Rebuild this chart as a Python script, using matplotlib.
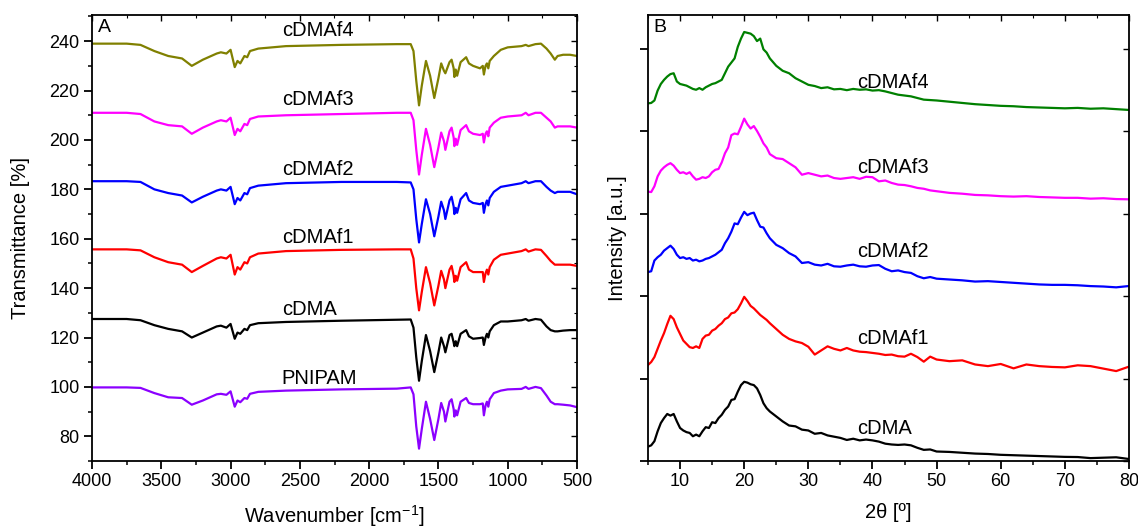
import matplotlib
matplotlib.use("Agg")
import matplotlib.pyplot as plt
from matplotlib.ticker import MultipleLocator, NullFormatter

plt.rcParams['font.family'] = ['Liberation Sans', 'DejaVu Sans']
plt.rcParams['mathtext.default'] = 'regular'

# ---------------- FTIR data (panel A) ----------------
wavenumber = [4000, 3750, 3650, 3550, 3450, 3350, 3280, 3200, 3100, 3070, 3030, 3000,
              2970, 2950, 2930, 2900, 2880, 2860, 2800, 2600, 2200, 1800, 1700, 1680,
              1660, 1640, 1620, 1590, 1560, 1530, 1500, 1480, 1460, 1450, 1420, 1405,
              1390, 1385, 1375, 1365, 1340, 1300, 1280, 1250, 1200, 1180, 1172, 1160,
              1150, 1140, 1130, 1100, 1050, 1000, 900, 870, 850, 800, 760, 720,
              690, 660, 640, 600, 550, 500]

ftir_cdmaf4 = [239, 239, 238.5, 236, 234, 233, 230, 232.5, 235, 235.5, 235, 236.5,
               229.5, 232, 231, 234, 233.5, 236, 237, 238, 238.5, 238.8, 238.8, 236,
               224, 214, 222, 232, 226, 217, 225, 231, 228, 227, 231.5, 232.5,
               229, 225.5, 228.5, 226, 231.5, 233.5, 231, 230, 229, 230, 226.5, 230,
               231, 229, 232, 234, 236.5, 237.5, 238, 238.5, 238, 238.8, 239, 237,
               235, 232.5, 234, 234.5, 234.5, 234]

ftir_cdmaf3 = [211, 211, 210.5, 207.5, 206, 205.5, 202.5, 205, 207.5, 208, 207.5, 209,
               202, 204.5, 203.5, 206.5, 206, 208.5, 209.5, 210, 210.5, 211, 211, 208,
               196, 186, 194, 204.5, 198, 189, 197, 203, 199.5, 196, 203.5, 205,
               201, 197.5, 200.5, 198, 204, 206, 203.5, 202.5, 202, 202.5, 199, 202.5,
               203.5, 201.5, 205, 207, 209, 209.5, 210, 211, 210, 211, 211, 209,
               207.5, 205, 205.5, 205.5, 205.5, 205]

ftir_cdmaf2 = [183.3, 183.3, 183, 180, 178.5, 177.5, 174.7, 177, 179.5, 180, 179.5, 181,
               174, 176.5, 175.5, 178.5, 178, 180.5, 181.5, 182.5, 183, 183, 182.8, 180,
               168, 158.5, 166, 176, 170, 161, 169, 175, 171.5, 168, 175.5, 177,
               173, 170, 172.5, 170.5, 176, 178.5, 175.5, 174.5, 174, 174.5, 170.5, 174,
               175.5, 173.5, 176.5, 179, 181, 181.5, 182.5, 183.3, 182.5, 183.3, 183.3, 181,
               179.5, 178.5, 179, 179, 179, 178]

ftir_cdmaf1 = [155.7, 155.7, 155.3, 152.5, 150.5, 149.5, 146.5, 149, 152, 152.5, 152, 153.5,
               145.5, 148.5, 147.5, 150.5, 150, 152.5, 154, 155, 155.5, 155.7, 155.7, 152,
               140, 131, 138.5, 148.5, 142, 133, 141, 147, 143.5, 140, 147.5, 149,
               145, 142.5, 145, 143, 148.5, 150.5, 147.5, 146.5, 146.5, 146.5, 142.5, 146,
               147.5, 145.5, 148.5, 151.5, 153.5, 154, 155, 155.7, 154.8, 155.7, 155.5, 153,
               151, 149.5, 149.5, 149.5, 149.5, 149]

ftir_cdma = [127.5, 127.5, 127, 125, 123.5, 122.5, 120, 122, 124.5, 124.8, 124, 125.5,
             119.5, 122, 121.5, 123.5, 123, 125, 125.8, 126.3, 126.8, 127.2, 127.3, 124,
             112, 102.5, 110.5, 121, 114.5, 106, 114, 120, 116.5, 114, 121, 121.5,
             118, 116.5, 118.5, 116.5, 121.5, 123, 120.5, 119.5, 119.8, 120, 117, 120,
             121.5, 120, 122.5, 125, 126.5, 126.5, 127, 127.5, 126.8, 127.5, 127.2, 124.5,
             123, 122.5, 122.5, 122.8, 123, 123]

ftir_pnipam = [99.8, 99.8, 99.6, 97.5, 95.8, 95.5, 92.8, 94.5, 97, 97.2, 96.8, 98.2,
               92, 94.5, 93.8, 95.5, 95.2, 97.2, 98, 98.5, 99, 99.3, 99.8, 97,
               84, 75, 83, 94, 87, 78.5, 87, 93.5, 90, 86, 94, 95,
               91, 88, 90.5, 88.5, 94, 95.5, 93.5, 93, 93, 93.3, 88.5, 92.5,
               94, 92, 95, 97.5, 98.5, 99, 99.2, 100, 99.2, 100, 99.5, 96.5,
               94, 93, 93, 92.8, 92.5, 91.8]

ftir_names = ['cDMAf4', 'cDMAf3', 'cDMAf2', 'cDMAf1', 'cDMA', 'PNIPAM']
ftir_colors = ['#808000', '#FF00FF', '#0000FF', '#FF0000', '#000000', '#8B00FF']
ftir_label_y = [244.2, 216.5, 188.2, 160.5, 131.3, 103.5]
ftir_label_x = 2630

# ---------------- XRD data (panel B) ----------------
two_theta = [5, 5.5, 6, 6.5, 7, 7.5, 8, 8.5, 9, 9.5,
             10, 10.5, 11, 11.5, 12, 12.5, 13, 13.5, 14, 14.5,
             15, 15.5, 16, 16.5, 17, 17.5, 18, 18.5, 19, 19.5,
             20, 20.5, 21, 21.5, 22, 22.5, 23, 23.5, 24,
             25, 26, 27, 28, 29, 30, 31, 32, 33, 34,
             35, 36, 37, 38, 39, 40, 41, 42, 43, 44,
             45, 46, 47, 48, 49, 50,
             52, 54, 56, 58, 60, 62, 64, 66, 68, 70, 72, 74, 76, 78, 80]

xrd_cdmaf4 = [4.335, 4.34, 4.37, 4.49, 4.57, 4.62, 4.66, 4.69, 4.70, 4.60,
              4.57, 4.56, 4.55, 4.53, 4.51, 4.50, 4.52, 4.50, 4.53, 4.55,
              4.57, 4.58, 4.60, 4.62, 4.70, 4.78, 4.83, 4.88, 5.02, 5.12,
              5.20, 5.19, 5.18, 5.15, 5.09, 5.12, 4.99, 4.95, 4.88,
              4.79, 4.73, 4.70, 4.64, 4.60, 4.56, 4.545, 4.52, 4.53, 4.505,
              4.51, 4.495, 4.51, 4.50, 4.505, 4.49, 4.495, 4.48, 4.46, 4.44,
              4.43, 4.42, 4.40, 4.38, 4.375, 4.37,
              4.355, 4.34, 4.325, 4.315, 4.305, 4.30, 4.29, 4.285, 4.28, 4.275, 4.28, 4.27,
              4.275, 4.265, 4.255]

xrd_cdmaf3 = [3.265, 3.26, 3.33, 3.45, 3.52, 3.56, 3.59, 3.61, 3.58, 3.53,
              3.49, 3.50, 3.48, 3.50, 3.45, 3.41, 3.42, 3.44, 3.43, 3.45,
              3.50, 3.53, 3.54, 3.62, 3.73, 3.80, 3.95, 3.97, 3.96, 4.05,
              4.15, 4.08, 4.03, 4.06, 4.00, 3.93, 3.85, 3.80, 3.72,
              3.67, 3.66, 3.61, 3.56, 3.47, 3.49, 3.47, 3.45, 3.46, 3.43,
              3.42, 3.43, 3.44, 3.42, 3.445, 3.44, 3.39, 3.40, 3.37, 3.35,
              3.345, 3.33, 3.31, 3.30, 3.28, 3.27,
              3.25, 3.24, 3.225, 3.22, 3.21, 3.205, 3.21, 3.20, 3.195, 3.19, 3.19, 3.18,
              3.185, 3.175, 3.172]

xrd_cdmaf2 = [2.29, 2.30, 2.43, 2.47, 2.50, 2.55, 2.58, 2.61, 2.57, 2.50,
              2.46, 2.47, 2.45, 2.46, 2.43, 2.44, 2.42, 2.43, 2.45, 2.46,
              2.48, 2.50, 2.53, 2.56, 2.64, 2.70, 2.78, 2.88, 2.87, 2.95,
              3.02, 2.98, 3.00, 3.01, 2.92, 2.84, 2.83, 2.76, 2.70,
              2.62, 2.58, 2.52, 2.48, 2.40, 2.41, 2.38, 2.37, 2.39, 2.36,
              2.355, 2.37, 2.38, 2.36, 2.355, 2.37, 2.375, 2.33, 2.30, 2.31,
              2.29, 2.28, 2.24, 2.215, 2.23, 2.21,
              2.20, 2.19, 2.175, 2.18, 2.17, 2.16, 2.15, 2.14, 2.135, 2.135, 2.13, 2.12,
              2.115, 2.105, 2.121]

xrd_cdmaf1 = [1.164, 1.20, 1.26, 1.36, 1.46, 1.55, 1.66, 1.76, 1.72, 1.62,
              1.54, 1.46, 1.42, 1.38, 1.37, 1.39, 1.37, 1.48, 1.52, 1.53,
              1.58, 1.60, 1.64, 1.67, 1.72, 1.74, 1.79, 1.80, 1.84, 1.91,
              1.99, 1.94, 1.88, 1.85, 1.81, 1.77, 1.74, 1.71, 1.67,
              1.60, 1.53, 1.48, 1.45, 1.43, 1.385, 1.29, 1.34, 1.39, 1.36,
              1.34, 1.37, 1.34, 1.325, 1.32, 1.31, 1.30, 1.285, 1.29, 1.27,
              1.265, 1.30, 1.26, 1.204, 1.265, 1.23,
              1.21, 1.22, 1.17, 1.15, 1.176, 1.123, 1.17, 1.15, 1.14, 1.135, 1.16, 1.15,
              1.12, 1.09, 1.144]

xrd_cdma = [0.174, 0.19, 0.24, 0.36, 0.46, 0.52, 0.57, 0.55, 0.57, 0.48,
            0.40, 0.37, 0.35, 0.34, 0.30, 0.32, 0.30, 0.36, 0.41, 0.40,
            0.47, 0.46, 0.52, 0.56, 0.62, 0.66, 0.74, 0.75, 0.84, 0.92,
            0.96, 0.95, 0.93, 0.92, 0.88, 0.80, 0.70, 0.64, 0.60,
            0.54, 0.48, 0.43, 0.42, 0.38, 0.37, 0.33, 0.34, 0.31, 0.295,
            0.28, 0.255, 0.27, 0.25, 0.26, 0.25, 0.235, 0.21, 0.20, 0.195,
            0.20, 0.19, 0.16, 0.135, 0.14, 0.115,
            0.11, 0.10, 0.09, 0.085, 0.075, 0.07, 0.065, 0.06, 0.055, 0.05, 0.048, 0.035,
            0.04, 0.045, 0.024]

xrd_names = ['cDMAf4', 'cDMAf3', 'cDMAf2', 'cDMAf1', 'cDMA']
xrd_colors = ['#008000', '#FF00FF', '#0000FF', '#FF0000', '#000000']
xrd_label_y = [4.59, 3.56, 2.54, 1.49, 0.40]
xrd_label_x = 37.6

# ---------------- Figure ----------------
W, H = 1138, 530
fig = plt.figure(figsize=(W / 100, H / 100), dpi=100)

def px_axes(x0, y0, x1, y1):
    return fig.add_axes([x0 / W, 1 - y1 / H, (x1 - x0) / W, (y1 - y0) / H])

axA = px_axes(92, 15, 577, 461)
axB = px_axes(648, 15, 1129, 461)

fs_tick = 13
fs_lab = 14.5
fs_ann = 14.5

ftir_series = [ftir_cdmaf4, ftir_cdmaf3, ftir_cdmaf2, ftir_cdmaf1, ftir_cdma, ftir_pnipam]
for name, vals, col, ly in zip(ftir_names, ftir_series, ftir_colors, ftir_label_y):
    axA.plot(wavenumber, vals, color=col, lw=1.6)
    axA.text(ftir_label_x, ly, name, fontsize=fs_ann, ha='left', va='center')

axA.set_xlim(4000, 500)
axA.set_ylim(70, 250.6)
axA.xaxis.set_major_locator(MultipleLocator(500))
axA.xaxis.set_minor_locator(MultipleLocator(250))
axA.yaxis.set_major_locator(MultipleLocator(20))
axA.yaxis.set_minor_locator(MultipleLocator(10))
axA.set_xlabel('Wavenumber [cm$^{-1}$]', fontsize=fs_lab, labelpad=9)
axA.set_ylabel('Transmittance [%]', fontsize=fs_lab, labelpad=14)
axA.text(0.012, 0.99, 'A', transform=axA.transAxes, fontsize=14, ha='left', va='top')

xrd_series = [xrd_cdmaf4, xrd_cdmaf3, xrd_cdmaf2, xrd_cdmaf1, xrd_cdma]
for name, vals, col, ly in zip(xrd_names, xrd_series, xrd_colors, xrd_label_y):
    axB.plot(two_theta, vals, color=col, lw=1.6)
    axB.text(xrd_label_x, ly, name, fontsize=fs_ann, ha='left', va='center')

axB.set_xlim(5, 80)
axB.set_ylim(0, 446 / 82.5)
axB.xaxis.set_major_locator(MultipleLocator(10))
axB.xaxis.set_minor_locator(MultipleLocator(5))
axB.yaxis.set_major_locator(MultipleLocator(1))
axB.yaxis.set_major_formatter(NullFormatter())
axB.set_xlabel('2θ [º]', fontsize=fs_lab, labelpad=9)
axB.set_ylabel('Intensity [a.u.]', fontsize=fs_lab, labelpad=6)
axB.text(0.012, 0.99, 'B', transform=axB.transAxes, fontsize=14, ha='left', va='top')

for ax in (axA, axB):
    for sp in ax.spines.values():
        sp.set_linewidth(1.3)
    ax.tick_params(axis='both', which='major', direction='out', length=5.5, width=1.3,
                   labelsize=fs_tick, top=False, right=False)
    ax.tick_params(axis='both', which='minor', direction='out', length=3, width=1.1,
                   top=False, right=False)
    sx = ax.secondary_xaxis('top')
    sx.xaxis.set_major_locator(ax.xaxis.get_major_locator())
    sx.xaxis.set_minor_locator(ax.xaxis.get_minor_locator())
    sx.tick_params(which='major', direction='in', length=4, width=1.0, labeltop=False)
    sx.tick_params(which='minor', direction='in', length=2.5, width=0.8)
    sx.spines['top'].set_visible(False)
    sy = ax.secondary_yaxis('right')
    sy.yaxis.set_major_locator(ax.yaxis.get_major_locator())
    sy.yaxis.set_minor_locator(ax.yaxis.get_minor_locator())
    sy.tick_params(which='major', direction='in', length=4, width=1.0, labelright=False)
    sy.tick_params(which='minor', direction='in', length=2.5, width=0.8)
    sy.spines['right'].set_visible(False)

fig.savefig('out.png', dpi=100)
